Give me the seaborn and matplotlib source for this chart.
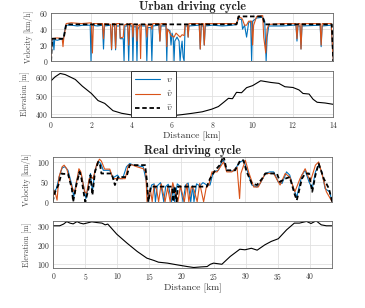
import numpy as np
import pandas as pd
import matplotlib
matplotlib.use('Agg')
import matplotlib.pyplot as plt
import seaborn as sns

sns.set_theme(style='whitegrid')
plt.rcParams['font.family'] = ['cmr10', 'DejaVu Serif']
plt.rcParams['mathtext.fontset'] = 'cm'
plt.rcParams['axes.formatter.use_mathtext'] = True

BLUE = '#0072BD'
ORANGE = '#D95319'

# ---------------- Urban driving cycle ----------------
d_v_urban = [0, 0.04, 0.1, 0.14, 0.18, 0.3, 0.45, 0.6, 0.72, 1.0, 1.3, 1.6, 1.94, 1.98, 2.02,
             2.3, 2.55, 2.6, 2.65, 2.95, 3.0, 3.05, 3.15, 3.2, 3.25, 3.4, 3.43, 3.58, 3.62,
             3.66, 3.8, 3.85, 3.9, 4.02, 4.06, 4.1, 4.22, 4.26, 4.3, 4.4, 4.7, 4.75, 4.8,
             4.95, 5.0, 5.05, 5.35, 5.4, 5.45, 5.7, 5.74, 5.78, 5.9, 5.95, 6.0, 6.06, 6.1,
             6.14, 6.25, 6.35, 6.4, 6.45, 6.5, 6.55, 6.6, 6.65, 6.76, 6.8, 6.84, 7.35, 7.4,
             7.45, 7.55, 7.6, 7.65, 8.0, 8.5, 9.0, 9.2, 9.3, 9.45, 9.5, 9.6, 9.7, 9.8, 9.9,
             9.95, 10.0, 10.2, 10.5, 10.6, 10.67, 10.72, 10.8, 11.5, 12.0, 12.15, 12.2,
             12.25, 12.35, 12.4, 12.45, 13.35, 13.4, 13.45, 13.9, 14.0]
v_urban = [0, 26, 27, 14, 27, 26, 27, 27, 45, 45, 44, 45, 45, 0, 45,
           44, 45, 15, 44, 45, 14, 44, 44, 14, 44, 44, 28, 28, 0,
           44, 44, 0, 44, 44, 0, 43, 43, 0, 40, 44, 44, 0, 42,
           42, 0, 44, 45, 25, 44, 44, 0, 40, 38, 20, 35, 30, 0,
           25, 30, 25, 0, 15, 25, 5, 0, 44, 44, 30, 44, 45, 15,
           44, 44, 20, 44, 45, 44, 45, 46, 53, 52, 40, 45, 30, 48, 50,
           0, 50, 54, 55, 50, 0, 30, 44, 44, 45, 45, 25,
           44, 44, 15, 44, 45, 18, 44, 45, 0]
d_vhat_urban = [0, 0.04, 0.3, 0.55, 0.59, 0.63, 0.75, 1.0, 1.5, 2.0, 2.05, 2.1, 2.55, 2.6,
                2.65, 2.95, 3.0, 3.05, 3.15, 3.2, 3.25, 3.4, 3.43, 3.58, 3.62, 3.8, 3.85,
                3.9, 4.02, 4.06, 4.1, 4.22, 4.26, 4.3, 4.4, 4.44, 4.48, 4.7, 4.75, 4.8,
                4.95, 5.0, 5.05, 5.35, 5.4, 5.45, 5.7, 5.74, 5.78, 5.9, 5.95, 6.1, 6.2,
                6.4, 6.5, 6.6, 6.65, 6.76, 6.8, 6.84, 7.35, 7.4, 7.45, 7.55, 7.6, 7.65,
                8.5, 9.2, 9.3, 9.45, 9.5, 9.6, 9.7, 9.8, 9.95, 10.0, 10.05, 10.2, 10.5,
                10.55, 10.65, 10.72, 10.8, 11.5, 12.15, 12.2, 12.25, 12.35, 12.4, 12.45,
                13.35, 13.4, 13.45, 13.9, 14.0]
vhat_urban = [0, 28, 29, 28, 18, 29, 47, 48, 47, 48, 10, 47, 47, 28,
              47, 46, 15, 47, 47, 16, 47, 47, 29, 30, 45, 47, 20,
              47, 47, 30, 46, 46, 25, 44, 46, 3, 46, 46, 30, 45,
              45, 40, 47, 47, 25, 47, 47, 18, 40, 35, 32, 30, 35,
              30, 33, 32, 46, 46, 30, 47, 47, 15, 47, 47, 20, 47,
              47, 47, 55, 54, 52, 45, 45, 50, 50, 20, 45, 56, 57,
              30, 10, 40, 46, 47, 47, 28, 47, 47, 15, 47,
              47, 20, 47, 47, 0]
d_ref_urban = [0.0, 0.05, 0.62, 0.75, 9.2, 9.3, 10.5, 10.6, 13.93, 14.0]
vbar_urban = [0, 28, 28, 46, 46, 56, 56, 46, 46, 0]

d_elev_urban = [0, 0.2, 0.45, 0.7, 1.2, 1.55, 2.0, 2.33, 2.66, 3.07, 3.5, 4.0, 4.5, 5.0,
                5.5, 6.0, 6.5, 7.0, 7.5, 7.97, 8.3, 8.6, 8.8, 9.0, 9.2, 9.45, 9.7, 10.0,
                10.4, 10.9, 11.3, 11.6, 12.0, 12.3, 12.5, 12.8, 13.0, 13.2, 13.6, 14.0]
elev_urban = [579, 600, 618, 612, 586, 550, 511, 473, 458, 419, 405, 396, 392, 390,
              390, 392, 398, 405, 413, 427, 441, 467, 485, 483, 517, 515, 542, 553,
              579, 570, 565, 547, 543, 530, 511, 508, 480, 464, 460, 453]

# ---------------- Real driving cycle ----------------
d_v_real = [0, 0.2, 0.6, 1.1, 1.5, 1.9, 2.4, 3.0, 3.3, 3.7, 4.2, 4.5, 4.9, 5.2, 5.6, 5.9,
            6.2, 6.6, 7.1, 7.5, 7.9, 8.9, 9.4, 10.1, 10.5, 10.9, 11.5, 12.0, 12.6, 13.3,
            14.1, 14.6, 14.9, 15.4, 15.8, 16.0, 16.3, 16.8, 17.3, 17.6, 18.0, 18.5, 18.8,
            19.0, 19.4, 19.9, 20.3, 20.7, 21.1, 21.5, 21.8, 22.0, 22.4, 22.9, 23.4, 24.0,
            24.5, 25.0, 25.8, 26.3, 26.6, 27.1, 28.1, 29.2, 29.7, 30.2, 31.0, 31.8, 32.3,
            33.1, 33.8, 34.4, 35.1, 35.7, 36.4, 36.9, 37.5, 38.0, 38.8, 39.3, 39.9, 40.4,
            40.9, 41.4, 41.9, 42.4, 43.1, 43.5]
v_real = [0, 25, 33, 67, 85, 88, 79, 42, 12, 50, 79, 67, 33, 8, 42, 71,
          25, 79, 102, 96, 79, 79, 60, 67, 58, 58, 88, 96, 92, 90,
          88, 50, 0, 42, 45, 0, 40, 48, 0, 38, 44, 0, 40,
          0, 45, 38, 0, 42, 47, 0, 40, 0, 45, 40, 48, 42,
          42, 75, 79, 100, 104, 79, 77, 100, 104, 83, 42, 37, 46,
          71, 75, 75, 50, 46, 75, 67, 33, 12, 67, 79, 50, 33,
          75, 92, 75, 33, 25, 0]
d_vhat_real = [0, 0.2, 0.5, 0.7, 1.0, 1.5, 1.8, 2.2, 3.0, 3.5, 3.7, 4.1, 4.4, 5.0, 5.3,
               5.7, 6.1, 6.3, 6.9, 7.3, 7.6, 8.1, 8.9, 9.4, 10.2, 11.3, 11.8, 12.3, 13.1,
               14.1, 14.5, 14.7, 15.2, 15.5, 15.8, 16.2, 16.5, 16.9, 17.5, 17.9, 18.3,
               18.7, 19.1, 19.5, 19.9, 20.5, 20.9, 21.2, 21.6, 22.0, 22.5, 22.9, 23.5,
               23.9, 24.3, 24.8, 25.6, 26.6, 27.1, 27.9, 28.7, 29.1, 29.3, 30.0, 30.5,
               31.3, 32.0, 33.1, 34.4, 35.4, 36.2, 36.9, 37.7, 38.5, 39.3, 40.1, 40.9,
               41.4, 41.9, 42.6, 43.5]
vhat_real = [0, 29, 17, 4, 62, 88, 92, 83, 37, 21, 46, 83, 75, 25, 21,
             58, 62, 58, 96, 107, 102, 82, 82, 58, 58, 58, 92, 93, 88,
             83, 75, 0, 33, 0, 42, 30, 0, 45, 0, 35, 0,
             48, 25, 0, 40, 0, 45, 0, 38, 30, 0, 46, 0,
             35, 42, 75, 75, 100, 75, 75, 87, 8, 71, 104, 75,
             37, 37, 71, 71, 42, 71, 62, 25, 58, 83, 50, 92,
             100, 71, 25, 0]
d_vbar_real = [0, 0.4, 0.9, 1.4, 1.7, 2.4, 3.0, 3.2, 3.7, 4.2, 4.5, 4.9, 5.1, 5.6, 5.9,
               6.2, 6.6, 7.1, 7.4, 7.6, 9.2, 9.7, 10.2, 11.5, 12.0, 14.4, 14.7, 14.9,
               15.3, 18.6, 18.8, 19.0, 19.3, 19.5, 24.0, 24.5, 25.3, 26.0, 26.6, 27.1,
               28.4, 29.2, 29.7, 30.2, 31.0, 31.8, 32.6, 33.1, 34.9, 35.4, 36.2, 36.9,
               37.7, 38.0, 38.8, 39.3, 39.9, 40.4, 40.9, 41.4, 42.2, 43.0, 43.5]
vbar_real = [0, 25, 42, 71, 70, 70, 33, 0, 42, 75, 58, 17, 0, 33, 67,
             17, 75, 100, 92, 71, 71, 42, 62, 62, 92, 92, 50, 0,
             38, 38, 0, 38, 0, 38, 38, 58, 79, 92, 115, 79,
             79, 104, 104, 75, 46, 42, 58, 71, 71, 50, 58, 62,
             17, 4, 58, 71, 71, 25, 67, 96, 58, 33, 0]

d_elev_real = [0, 1.0, 1.6, 2.1, 2.6, 3.1, 3.7, 4.2, 4.7, 5.2, 6.0, 6.8, 7.6, 8.1, 8.5,
               9.9, 11.5, 13.1, 14.6, 15.7, 16.4, 17.8, 19.3, 20.9, 21.9, 23.0, 24.0,
               24.5, 25.0, 26.3, 27.6, 29.1, 29.9, 30.9, 31.8, 33.0, 34.0, 35.1, 36.4,
               37.6, 38.4, 39.5, 40.2, 41.0, 41.8, 42.6, 43.5]
elev_real = [300, 300, 309, 322, 314, 310, 322, 314, 310, 314, 321, 317, 314, 305, 309,
             256, 209, 165, 130, 118, 109, 104, 95, 86, 81, 84, 86,
             98, 104, 98, 139, 177, 174, 182, 172, 200, 218, 232, 279,
             314, 314, 323, 312, 326, 305, 300, 300]

fig = plt.figure(figsize=(3.65, 3.08), dpi=100)
ax1 = fig.add_axes([0.140, 0.802, 0.773, 0.155])
ax2 = fig.add_axes([0.140, 0.620, 0.773, 0.150])
ax3 = fig.add_axes([0.144, 0.345, 0.766, 0.146])
ax4 = fig.add_axes([0.146, 0.129, 0.764, 0.154])

lw = 0.8
sns.lineplot(x=d_v_urban, y=v_urban, ax=ax1, color=BLUE, lw=lw, estimator=None, label=r'$v$')
sns.lineplot(x=d_vhat_urban, y=vhat_urban, ax=ax1, color=ORANGE, lw=lw, estimator=None,
             label=r'$\hat{v}$')
sns.lineplot(x=d_ref_urban, y=vbar_urban, ax=ax1, color='black', lw=1.3, estimator=None,
             label=r'$\bar{v}$')
ax1.lines[-1].set_dashes((2.5, 1.5))
sns.lineplot(x=d_elev_urban, y=elev_urban, ax=ax2, color='black', lw=0.8, estimator=None)

sns.lineplot(x=d_v_real, y=v_real, ax=ax3, color=BLUE, lw=lw, estimator=None)
sns.lineplot(x=d_vhat_real, y=vhat_real, ax=ax3, color=ORANGE, lw=lw, estimator=None)
sns.lineplot(x=d_vbar_real, y=vbar_real, ax=ax3, color='black', lw=1.3, estimator=None)
ax3.lines[-1].set_dashes((2.5, 1.5))
sns.lineplot(x=d_elev_real, y=elev_real, ax=ax4, color='black', lw=0.8, estimator=None)

handles, labels = ax1.get_legend_handles_labels()
ax1.get_legend().remove()
leg = fig.legend(handles, labels, loc='upper left', bbox_to_anchor=(0.358, 0.768),
                 fontsize=7, frameon=True, fancybox=False, handlelength=2.6,
                 labelspacing=0.45, borderpad=0.4, handletextpad=0.6, borderaxespad=0)
leg.get_frame().set_edgecolor('#333333')
leg.get_frame().set_linewidth(0.7)
leg.get_frame().set_alpha(1)

ax1.set(xlim=(0, 14), ylim=(0, 60), yticks=[0, 20, 40, 60], xticks=np.arange(0, 15, 2))
ax2.set(xlim=(0, 14), ylim=(385, 632), yticks=[400, 500, 600], xticks=np.arange(0, 15, 2))
ax3.set(xlim=(0, 43.5), ylim=(0, 113), yticks=[0, 50, 100], xticks=np.arange(0, 45, 5))
ax4.set(xlim=(0, 43.5), ylim=(77, 326), yticks=[100, 200, 300], xticks=np.arange(0, 45, 5))

ax1.set_xticklabels([])
ax3.set_xticklabels([])

for ax in [ax1, ax2, ax3, ax4]:
    ax.grid(True, color='#e0e0e0', lw=0.6)
    for s in ax.spines.values():
        s.set_color('#666666')
        s.set_linewidth(0.6)
    ax.tick_params(labelsize=5.5, colors='#333333', length=0, pad=2)

ax1.set_ylabel('Velocity [km/h]', fontsize=5.5, color='#444444', labelpad=4)
ax2.set_ylabel('Elevation [m]', fontsize=5.5, color='#444444', labelpad=4)
ax3.set_ylabel('Velocity [km/h]', fontsize=5.5, color='#444444', labelpad=4)
ax4.set_ylabel('Elevation [m]', fontsize=5.5, color='#444444', labelpad=4)
ax2.set_xlabel('Distance [km]', fontsize=7, color='#333333', labelpad=1)
ax4.set_xlabel('Distance [km]', fontsize=7, color='#333333', labelpad=1)

ax1.set_title('Urban driving cycle', fontfamily='cmb10', fontsize=8.8, pad=1.5)
ax3.set_title('Real driving cycle', fontfamily='cmb10', fontsize=8.8, pad=-1)

fig.savefig('out.png', dpi=100)
plt.close()
